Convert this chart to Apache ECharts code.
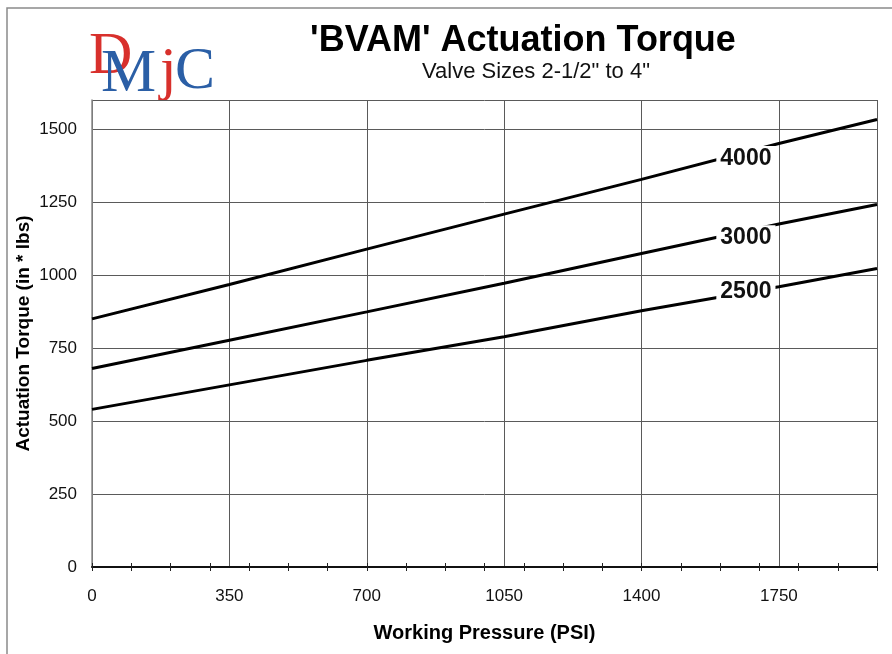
<!DOCTYPE html>
<html>
<head>
<meta charset="utf-8">
<script src="https://cdn.jsdelivr.net/npm/echarts@6/dist/echarts.min.js"></script>
<style>
  html, body { margin: 0; padding: 0; background: #fff; }
  #chart { width: 892px; height: 654px; }
</style>
</head>
<body>
<div id="chart"></div>
<script>
// values, PSI -> in*lbs
var pressure = [0, 350, 700, 1050, 1400, 1750, 2000]
var torque4000 = [850, 968, 1089, 1209, 1328, 1451, 1533]
var torque3000 = [680, 777, 874, 972, 1074, 1175, 1242]
var torque2500 = [540, 624, 708, 789, 878, 960, 1023]
var seriesNames = ['4000', '3000', '2500']
// where the curve labels sit
var labelPressure = 1666
var labelTorque = [1400, 1128, 942]

var allTorque = [torque4000, torque3000, torque2500]
var gridColor = '#5a5a5a'

var chart = echarts.init(document.getElementById('chart'))

function makeSeries(idx) {
  var vals = allTorque[idx]
  return {
    name: seriesNames[idx],
    type: 'line',
    xAxisIndex: 0,
    yAxisIndex: 0,
    symbol: 'none',
    silent: true,
    lineStyle: { color: '#000', width: 3 },
    data: pressure.map(function (p, i) { return [p, vals[i]] }),
    markPoint: {
      symbol: 'rect',
      symbolSize: 0,
      silent: true,
      label: {
        show: true,
        position: 'inside',
        formatter: seriesNames[idx],
        color: '#111',
        fontFamily: '"Liberation Sans Narrow", "Liberation Sans", sans-serif',
        fontWeight: 'bold',
        fontSize: 23,
        backgroundColor: '#fff',
        padding: [1, 4, 1, 4]
      },
      data: [{ coord: [labelPressure, labelTorque[idx]] }]
    },
    z: 3
  }
}

// small ticks every 100 psi, drawn on both sides of the axis
function minorAxis(inside) {
  return {
    type: 'value',
    position: 'bottom',
    min: 0,
    max: 2000,
    interval: 100,
    axisLine: { show: false },
    axisLabel: { show: false },
    splitLine: { show: false },
    axisTick: { show: true, inside: inside, length: 4, lineStyle: { color: '#222', width: 1 } }
  }
}

function plain(v) { return String(v) }

chart.setOption({
  animation: false,
  backgroundColor: '#fff',
  grid: { left: 92, right: 15, top: 100, bottom: 87, containLabel: false, outerBoundsMode: 'none' },
  graphic: [
    { type: 'rect', shape: { x: 7, y: 8, width: 900, height: 700 }, style: { fill: 'none', stroke: '#8a8a8a', lineWidth: 1.5 }, silent: true },
    { type: 'text', x: 523, y: 41, style: { text: "'BVAM' Actuation Torque", textAlign: 'center', textVerticalAlign: 'middle', fontFamily: '"Liberation Sans", sans-serif', fontWeight: 'bold', fontSize: 36, fill: '#000' } },
    { type: 'text', x: 536, y: 72, style: { text: 'Valve Sizes 2-1/2" to 4"', textAlign: 'center', textVerticalAlign: 'middle', fontFamily: '"Liberation Sans", sans-serif', fontSize: 22, fill: '#111' } },
    // DMIC logo
    { type: 'text', x: 89, y: 27, style: { text: 'D', fontFamily: '"Liberation Serif", serif', fontSize: 60, fill: '#d8302c' } },
    { type: 'text', x: 101, y: 44, style: { text: 'M', fontFamily: '"Liberation Serif", serif', fontSize: 62, fill: '#2b5fa6' } },
    { type: 'text', x: 160, y: 42, style: { text: 'j', fontFamily: '"Liberation Serif", serif', fontSize: 60, fill: '#d8302c' } },
    { type: 'text', x: 175, y: 42, style: { text: 'C', fontFamily: '"Liberation Serif", serif', fontSize: 60, fill: '#2b5fa6' } }
  ],
  xAxis: [
    {
      type: 'value',
      position: 'bottom',
      min: 0,
      max: 2000,
      interval: 350,
      name: 'Working Pressure (PSI)',
      nameLocation: 'middle',
      nameGap: 56,
      nameMoveOverlap: false,
      nameTextStyle: { fontFamily: '"Liberation Sans", sans-serif', fontWeight: 'bold', fontSize: 20, color: '#000' },
      axisLine: { show: true, lineStyle: { color: '#111', width: 2 } },
      axisTick: { show: false },
      axisLabel: { showMaxLabel: false, margin: 21, formatter: plain, fontFamily: '"Liberation Sans", sans-serif', fontSize: 17, color: '#111' },
      splitLine: { show: true, lineStyle: { color: gridColor, width: 1 } }
    },
    minorAxis(true),
    minorAxis(false)
  ],
  yAxis: {
    type: 'value',
    min: 0,
    max: 1600,
    interval: 250,
    name: 'Actuation Torque (in * lbs)',
    nameLocation: 'middle',
    nameGap: 59,
    nameMoveOverlap: false,
    nameTextStyle: { fontFamily: '"Liberation Sans", sans-serif', fontWeight: 'bold', fontSize: 19, color: '#000' },
    axisLine: { show: true, lineStyle: { color: '#8a8a8a', width: 1.5 } },
    axisTick: { show: false },
    axisLabel: { showMaxLabel: false, margin: 15, formatter: plain, fontFamily: '"Liberation Sans", sans-serif', fontSize: 17, color: '#111' },
    splitLine: { show: true, lineStyle: { color: gridColor, width: 1 } }
  },
  series: [makeSeries(0), makeSeries(1), makeSeries(2)]
})
</script>
</body>
</html>
